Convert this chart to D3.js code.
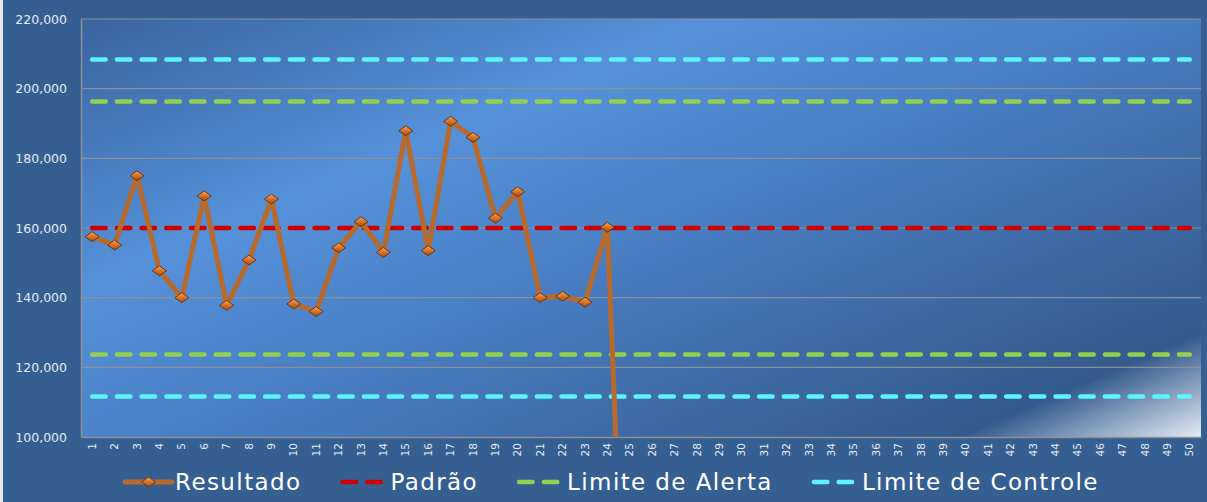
<!DOCTYPE html>
<html>
<head>
<meta charset="utf-8">
<script src="https://cdn.jsdelivr.net/npm/d3@7"></script>
<style>
  html, body { margin: 0; padding: 0; background: #365f91; }
  #chart { width: 1207px; height: 502px; }
  .tick text { fill: #e3e9f2; }
</style>
</head>
<body>
<div id="chart"></div>
<script>
'use strict';

// data
const categories = d3.range(1, 51).map(String);
const resultado = [157500, 155100, 175000, 147700, 140000, 169200, 137800, 150800, 168300, 138200,
  136000, 154300, 161800, 153000, 187900, 153500, 190600, 186000, 162800, 170400,
  140000, 140400, 138700, 160200, 0];
const padrao = 160000;
const limiteAlerta = [123700, 196300];
const limiteControle = [111600, 208400];
const yTicks = [100000, 120000, 140000, 160000, 180000, 200000, 220000];

const width = 1207, height = 502;
const padding = { top: 19, right: 6, bottom: 65, left: 81 };
const innerWidth = width - padding.left - padding.right;
const innerHeight = height - padding.top - padding.bottom;

const svg = d3.select('#chart').append('svg')
  .attr('width', width)
  .attr('height', height);

const defs = svg.append('defs');

// plot area fill, diagonal with light bottom-right corner
const bg = defs.append('linearGradient')
  .attr('id', 'plotBg')
  .attr('gradientUnits', 'userSpaceOnUse')
  .attr('x1', 0).attr('y1', 0)
  .attr('x2', 827 * 0.396).attr('y2', 827 * 0.918);
[[0, '#3a64a0'], [0.3, '#5591d9'], [0.5, '#4a80c6'], [0.7, '#3f6ca8'], [0.885, '#335a8c'], [1, '#e3eaf4']]
  .forEach(s => bg.append('stop').attr('offset', s[0]).attr('stop-color', s[1]));

const mk = defs.append('linearGradient')
  .attr('id', 'markerFill').attr('x1', 0).attr('y1', 0).attr('x2', 0).attr('y2', 1);
[[0, '#f3a35c'], [0.5, '#d9722a'], [1, '#9a4c14']]
  .forEach(s => mk.append('stop').attr('offset', s[0]).attr('stop-color', s[1]));

defs.append('clipPath').attr('id', 'plotClip')
  .append('rect').attr('width', innerWidth).attr('height', innerHeight);

// left light strip
svg.append('rect').attr('width', 3).attr('height', height).attr('fill', '#e8e8e8');

const graph = svg.append('g')
  .attr('transform', 'translate(' + padding.left + ',' + padding.top + ')');

const x = d3.scaleBand().domain(categories).range([0, innerWidth]).padding(0);
const y = d3.scaleLinear().domain([100000, 220000]).range([innerHeight, 0]);
const cx = d => x(d) + x.bandwidth() / 2;

graph.append('rect')
  .attr('width', innerWidth)
  .attr('height', innerHeight)
  .attr('fill', 'url(#plotBg)');

// gridlines
graph.append('g').selectAll('line').data(yTicks.slice(1)).enter()
  .append('line')
  .attr('x1', 0).attr('x2', innerWidth)
  .attr('y1', d => y(d)).attr('y2', d => y(d))
  .attr('stroke', '#8a8f99').attr('stroke-width', 1.2);

// axes
const yAxis = d3.axisLeft(y).tickValues(yTicks).tickFormat(d3.format(',')).tickSize(0).tickPadding(14);
const yG = graph.append('g').attr('class', 'y axis').call(yAxis);
yG.select('.domain').attr('stroke', '#8a8f99').attr('stroke-width', 1.5);
yG.selectAll('text').style('font-family', 'DejaVu Sans').style('font-size', '12.5px');

const xAxis = d3.axisBottom(x).tickSize(0);
const xG = graph.append('g').attr('class', 'x axis')
  .attr('transform', 'translate(0,' + innerHeight + ')')
  .call(xAxis);
xG.select('.domain').attr('stroke', '#8a8f99').attr('stroke-width', 1.5);
xG.selectAll('text')
  .style('font-family', 'DejaVu Sans').style('font-size', '10.5px')
  .attr('text-anchor', 'end')
  .attr('dy', '0.35em')
  .attr('transform', 'translate(0,6) rotate(-90)')
  .attr('y', 0).attr('x', 0);

// reference lines
const refLines = [
  { value: limiteControle[1], color: '#5ef4ff' },
  { value: limiteAlerta[1], color: '#92d050' },
  { value: padrao, color: '#cc0000' },
  { value: limiteAlerta[0], color: '#92d050' },
  { value: limiteControle[0], color: '#5ef4ff' }
];
graph.append('g').selectAll('line').data(refLines).enter()
  .append('line')
  .attr('x1', cx(categories[0])).attr('x2', cx(categories[categories.length - 1]))
  .attr('y1', d => y(d.value)).attr('y2', d => y(d.value))
  .attr('stroke', d => d.color)
  .attr('stroke-width', 4.5)
  .attr('stroke-linecap', 'round')
  .attr('stroke-dasharray', '13.5,11.2');

// resultado series
const pts = resultado.map((v, i) => ({ cat: categories[i], v: v }));
const series = graph.append('g').attr('clip-path', 'url(#plotClip)');
series.append('path')
  .datum(pts)
  .attr('fill', 'none')
  .attr('stroke', '#b8692c')
  .attr('stroke-width', 5)
  .attr('stroke-linejoin', 'round')
  .attr('d', d3.line().x(d => cx(d.cat)).y(d => y(d.v)));

const diamond = 'M-7,0L0,-5L7,0L0,5Z';
series.selectAll('path.marker').data(pts).enter()
  .append('path')
  .attr('class', 'marker')
  .attr('transform', d => 'translate(' + cx(d.cat) + ',' + y(d.v) + ')')
  .attr('d', diamond)
  .attr('fill', 'url(#markerFill)')
  .attr('stroke', '#6e3a12')
  .attr('stroke-width', 1);

// legend
const legendItems = [
  { name: 'Resultado', color: '#b8692c', marker: true },
  { name: 'Padrão', color: '#cc0000' },
  { name: 'Limite de Alerta', color: '#92d050' },
  { name: 'Limite de Controle', color: '#5ef4ff' }
];
const legend = svg.append('g').attr('transform', 'translate(0,482)');
let offset = 0;
const items = legend.selectAll('g').data(legendItems).enter().append('g');
items.each(function(d) {
  const g = d3.select(this);
  if (d.marker) {
    g.append('line').attr('x1', 0).attr('x2', 47).attr('stroke', d.color)
      .attr('stroke-width', 5).attr('stroke-linecap', 'round');
    g.append('path').attr('d', diamond).attr('transform', 'translate(23.5,0)')
      .attr('fill', 'url(#markerFill)').attr('stroke', '#6e3a12');
  } else {
    g.append('line').attr('x1', 2).attr('x2', 45).attr('stroke', d.color)
      .attr('stroke-width', 4.5).attr('stroke-linecap', 'round')
      .attr('stroke-dasharray', '13.5,11.2');
  }
  const txt = g.append('text')
    .attr('x', 50).attr('dy', '0.36em')
    .attr('fill', '#ffffff')
    .style('font-family', 'DejaVu Sans')
    .style('font-size', '23px')
    .style('letter-spacing', '1.4px')
    .text(d.name);
  d.w = 50 + txt.node().getComputedTextLength();
});
const gap = 39;
const total = d3.sum(legendItems, d => d.w) + gap * (legendItems.length - 1);
offset = 612 - total / 2;
items.attr('transform', d => {
  const t = 'translate(' + offset + ',0)';
  offset += d.w + gap;
  return t;
});
</script>
</body>
</html>
